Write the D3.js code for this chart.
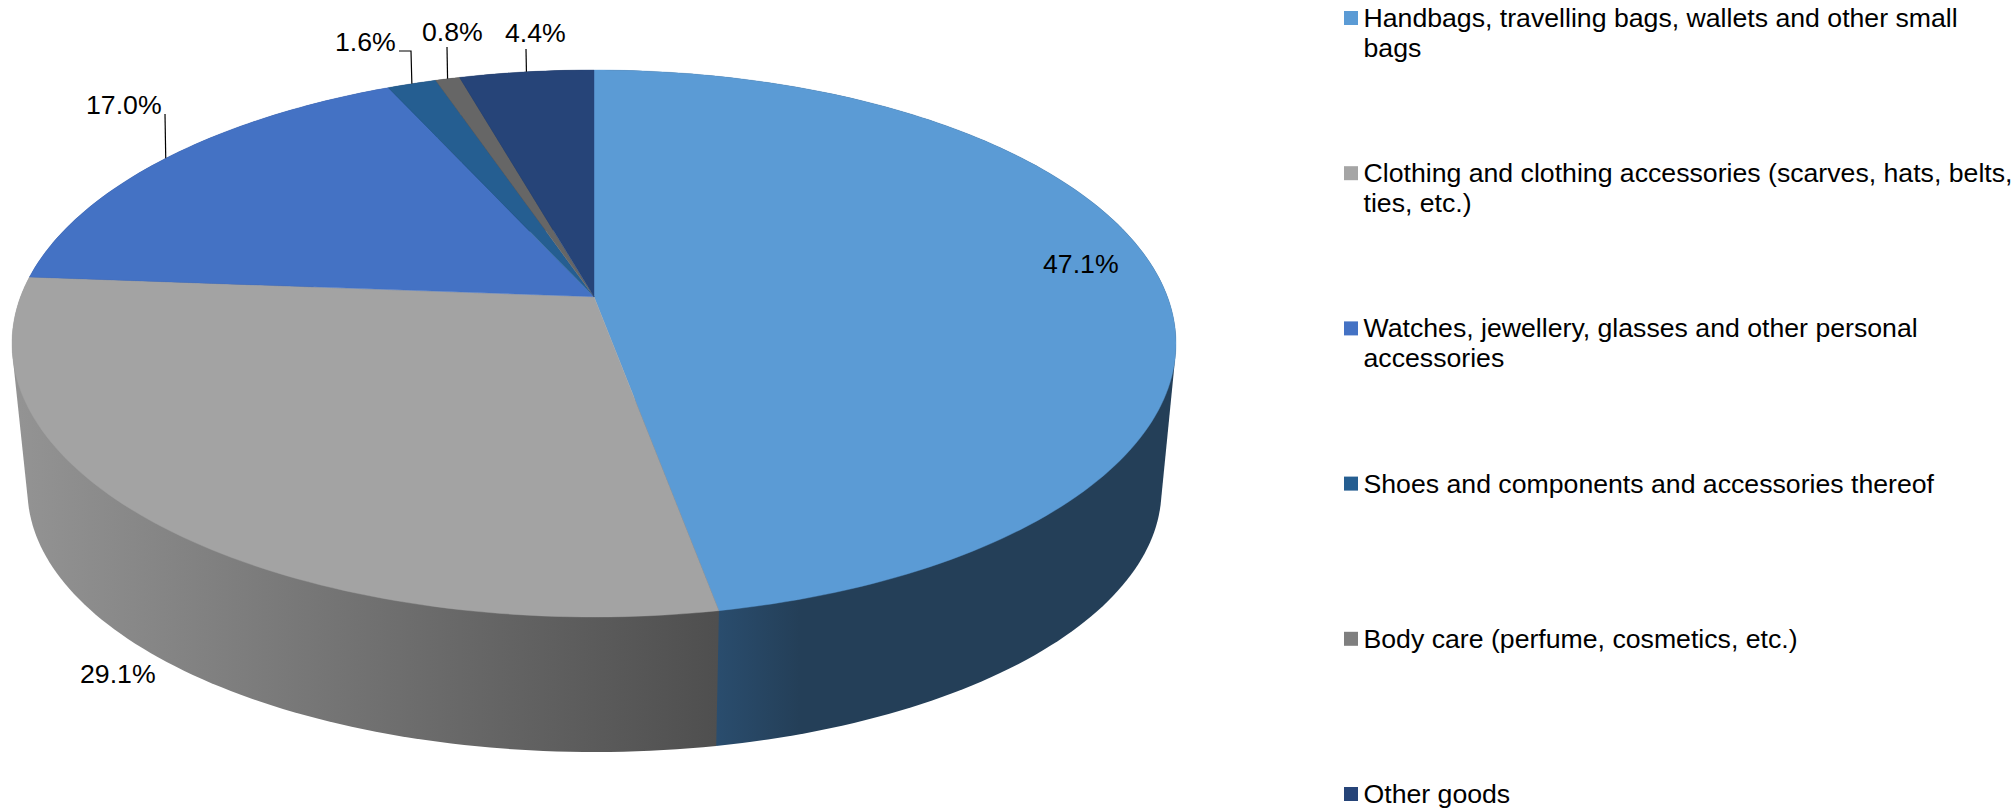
<!DOCTYPE html>
<html>
<head>
<meta charset="utf-8">
<script src="https://cdn.jsdelivr.net/npm/d3@7"></script>
<style>
  body { margin: 0; background: #fff; }
  text { font-family: "Liberation Sans", Arial, sans-serif; font-size: 26.67px; fill: #000; }
</style>
</head>
<body>
<div id="chart"></div>
<script>
// Data
var categories = [
  ["Handbags, travelling bags, wallets and other small", "bags"],
  ["Clothing and clothing accessories (scarves, hats, belts,", "ties, etc.)"],
  ["Watches, jewellery, glasses and other personal", "accessories"],
  ["Shoes and components and accessories thereof"],
  ["Body care (perfume, cosmetics, etc.)"],
  ["Other goods"]
];
var shares = [47.1, 29.1, 17.0, 1.6, 0.8, 4.4];

var topColors = ["#5b9bd5", "#a3a3a3", "#4472c4", "#255e91", "#666666", "#264478"];
var legendColors = ["#5b9bd5", "#a5a5a5", "#4472c4", "#255e91", "#7f7f7f", "#264478"];
var sideStops = [
  ["#2a4d6e", "#243f58"],
  ["#939393", "#4f4f4f"],
  ["#29447c", "#29447c"],
  ["#163856", "#163856"],
  ["#3c3c3c", "#3c3c3c"],
  ["#172948", "#172948"]
];
var sideRanges = [[716, 800], [20, 716], [0, 600], [0, 600], [0, 600], [0, 600]];

// Where each value label sits, and where its leader line starts (null = no leader)
var labelSpots = [
  { x: 1043, y: 273, from: null },
  { x: 80, y: 683, from: null },
  { x: 86, y: 114, from: [[165, 114]] },
  { x: 335, y: 51, from: [[399, 51], [411, 51]] },
  { x: 422, y: 41, from: [[447, 47]] },
  { x: 505, y: 42, from: [[526, 49]] }
];

var svgWidth = 2015;
var svgHeight = 808;

// The two rims of the pie, the lower one is smaller because of the perspective
var topRim = { cx: 594, cy: 343.5, rx: 582, ry: 273.5 };
var baseRim = { cx: 594.5, cy: 490, rx: 567, ry: 262 };
var tilt = 0.171; // how far the pie centre is pushed up from the ellipse centre

var svg = d3.select("#chart")
  .append("svg")
  .attr("width", svgWidth)
  .attr("height", svgHeight);

var defs = svg.append("defs");

var pie = d3.pie().sort(null).value(d => d)(shares);

// project an angle (clockwise from the top) or a radius fraction on to a rim
function project(rim, angle, r) {
  var x = Math.sin(angle) * r;
  var y = -Math.cos(angle) * r;
  var w = 1 - tilt * y;
  return [
    rim.cx + rim.rx * x * Math.sqrt(1 - tilt * tilt) / w,
    rim.cy + rim.ry * (y - tilt) / w
  ];
}

function sliceAngles(d) {
  var n = Math.max(2, Math.ceil((d.endAngle - d.startAngle) / 0.02));
  return d3.range(n + 1).map(i => d.startAngle + (d.endAngle - d.startAngle) * i / n);
}

var line = d3.line();

// Side wall gradients
pie.forEach(function(d, i) {
  var grad = defs.append("linearGradient")
    .attr("id", "side" + i)
    .attr("gradientUnits", "userSpaceOnUse")
    .attr("x1", sideRanges[i][0]).attr("y1", 0)
    .attr("x2", sideRanges[i][1]).attr("y2", 0);
  grad.append("stop").attr("offset", 0).attr("stop-color", sideStops[i][0]);
  grad.append("stop").attr("offset", 1).attr("stop-color", sideStops[i][1]);
});

// Side walls: hull of the slice's two rim arcs, the inner part ends up under the top face
svg.append("g").selectAll("path")
  .data(pie)
  .enter()
  .append("path")
  .attr("fill", (d, i) => `url(#side${i})`)
  .attr("d", function(d) {
    var angles = sliceAngles(d);
    var pts = angles.map(a => project(topRim, a, 1))
      .concat(angles.map(a => project(baseRim, a, 1)));
    return line(d3.polygonHull(pts)) + "Z";
  });

// Top face
svg.append("g").selectAll("path")
  .data(pie)
  .enter()
  .append("path")
  .attr("fill", (d, i) => topColors[i])
  .attr("stroke", (d, i) => topColors[i])
  .attr("stroke-width", 0.4)
  .attr("d", function(d) {
    var pts = sliceAngles(d).map(a => project(topRim, a, 1));
    pts.push(project(topRim, 0, 0));
    return line(pts) + "Z";
  });

// Leader lines
svg.append("g").selectAll("path")
  .data(pie.filter((d, i) => labelSpots[i].from))
  .enter()
  .append("path")
  .attr("fill", "none")
  .attr("stroke", "#000")
  .attr("stroke-width", 1.2)
  .attr("d", function(d) {
    var mid = (d.startAngle + d.endAngle) / 2;
    return line(labelSpots[d.index].from.concat([project(topRim, mid, 1)]));
  });

// Value labels
svg.append("g").selectAll("text")
  .data(shares)
  .enter()
  .append("text")
  .attr("x", (d, i) => labelSpots[i].x)
  .attr("y", (d, i) => labelSpots[i].y)
  .text(d => d.toFixed(1) + "%");

// Legend
var legendY = d3.scalePoint()
  .domain(d3.range(categories.length))
  .range([27, 803]);

var legend = svg.append("g").selectAll("g")
  .data(categories)
  .enter()
  .append("g")
  .attr("transform", (d, i) => `translate(1344, ${legendY(i)})`);

legend.append("rect")
  .attr("y", -16)
  .attr("width", 14)
  .attr("height", 14)
  .attr("fill", (d, i) => legendColors[i]);

legend.selectAll("text")
  .data(d => d)
  .enter()
  .append("text")
  .attr("x", 19.5)
  .attr("y", (d, i) => i * 29.8)
  .text(d => d);
</script>
</body>
</html>
